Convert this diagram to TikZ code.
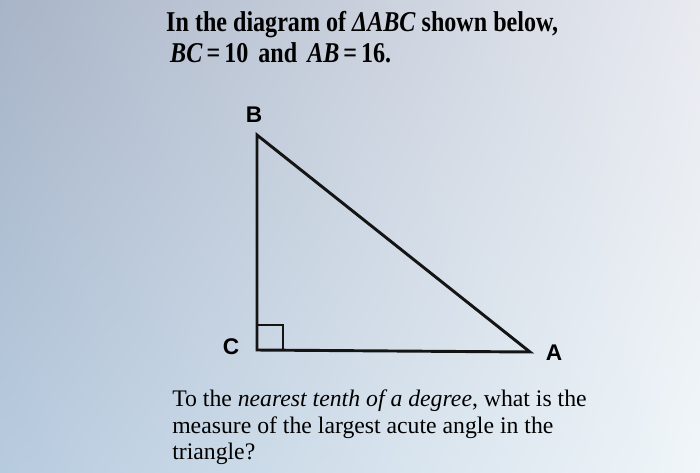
\documentclass[tikz,border=0pt]{standalone}
\usepackage{fontspec}
\setmainfont{Liberation Serif}
\setsansfont{Liberation Sans}
\usetikzlibrary{shadings}
\definecolor{bgUL}{RGB}{168,180,199}
\definecolor{bgUR}{RGB}{232,234,240}
\definecolor{bgLL}{RGB}{183,203,223}
\definecolor{bgLR}{RGB}{240,246,249}
\begin{document}
\begin{tikzpicture}[x=0.75pt,y=-0.75pt,
  title/.style={anchor=base west,inner sep=0pt,xscale=0.84,font=\fontsize{21.5}{25}\selectfont\bfseries},
  body/.style={anchor=base west,inner sep=0pt,font=\fontsize{17.8}{21}\selectfont},
  vlabel/.style={inner sep=0pt,font=\sffamily\bfseries\fontsize{17}{20}\selectfont},
  edge/.style={line width=2.2pt,draw=black!92,line join=miter}]
\useasboundingbox (0,0) rectangle (700,472);
\shade[upper left=bgUL,upper right=bgUR,lower left=bgLL,lower right=bgLR]
  (0,0) rectangle (700,472);
\node[title] (t1) at (166,31) {In the diagram of \textit{ΔABC} shown below,};
\node[title] (t2) at (170,62) {\textit{BC}\,=\,10\, and\, \textit{AB}\,=\,16.};
\coordinate (B) at (257,135);
\coordinate (C) at (257,350);
\coordinate (A) at (530,352);
\draw[edge] (B) -- (C) -- (A) -- cycle;
\coordinate (s1) at (257,325);
\coordinate (s2) at (283,325);
\coordinate (s3) at (283,350);
\draw[edge] (s1) -- (s2) -- (s3);
\node[vlabel] (lB) at (254,115) {B};
\node[vlabel] (lC) at (231,347) {C};
\node[vlabel] (lA) at (554,353) {A};
\node[body] (b1) at (172,406) {To the \textit{nearest tenth of a degree}, what is the};
\node[body] (b2) at (172,433) {measure of the largest acute angle in the};
\node[body] (b3) at (172,459) {triangle?};
\end{tikzpicture}
\end{document}
